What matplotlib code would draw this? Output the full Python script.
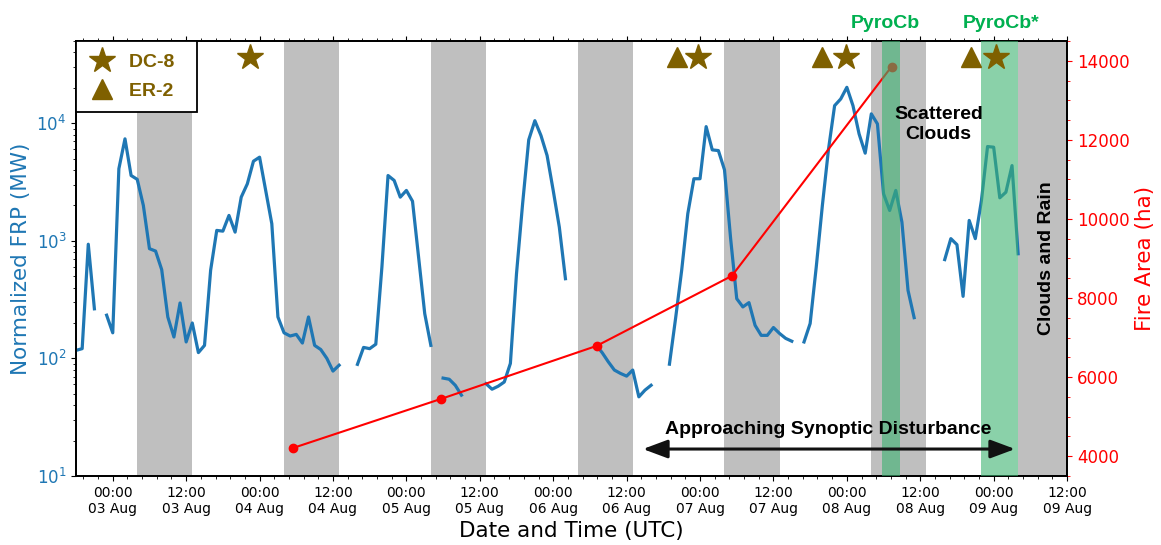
import numpy as np
import pandas as pd
import matplotlib
matplotlib.use('Agg')
import matplotlib.pyplot as plt
import matplotlib.dates as mdates
from matplotlib.ticker import AutoMinorLocator, MultipleLocator
from matplotlib.lines import Line2D

# hourly normalized FRP (MW), starting 02 Aug 18:00 UTC, NaN = no data
frp_start = '2019-08-02 18:00'
frp_mw = [
    117, 121, 935, 264, np.nan, 233, 165, 4100, 7360, 3590,
    3330, 2000, 857, 818, 569, 225, 152, 296, 138, 200,
    112, 129, 562, 1225, 1208, 1643, 1185, 2350, 3050, 4750,
    5140, 2680, 1397, 225, 165, 155, 160, 135, 225, 129,
    119, 100, 78, 87.5, np.nan, np.nan, 89, 124, 121, 132,
    600, 3590, 3260, 2350, 2680, 2170, 728, 240, 129, np.nan,
    68, 66.5, 59, 48.7, np.nan, np.nan, np.nan, 61, 54.7, 58,
    63, 90.6, 525, 2070, 7220, 10500, 7850, 5310, 2680, 1307,
    476, np.nan, np.nan, np.nan, np.nan, 130, 112, 93.6, 79.6, 74.5,
    70.7, 79.6, 47.1, 53.7, 59.1, np.nan, np.nan, 89.3, 218, 561,
    1700, 3370, 3370, 9350, 5930, 5850, 4010, 1047, 322, 274,
    298, 191, 157, 157, 183, 163, 148, 140, np.nan, 138,
    198, 600, 2000, 6000, 14100, 16070, 20180, 14100, 8110, 5560,
    12000, 9860, 2510, 1810, 2680, 1443, 379, 222, np.nan, np.nan,
    np.nan, np.nan, 692, 1043, 927, 337, 1490, 1043, 2200, 6330,
    6250, 2320, 2590, 4360, 776,
]

area_time = ['2019-08-04 05:30', '2019-08-05 05:40', '2019-08-06 07:06',
             '2019-08-07 05:12', '2019-08-08 07:18']
area_ha = [4210, 5450, 6790, 8560, 13850]

dc8_time = ['2019-08-03 22:30', '2019-08-06 23:45', '2019-08-07 23:50', '2019-08-09 00:24']
er2_time = ['2019-08-06 20:12', '2019-08-07 20:00', '2019-08-08 20:18']

night_start = ['2019-08-03 04:00', '2019-08-04 04:00', '2019-08-05 04:00', '2019-08-06 04:00',
               '2019-08-07 04:00', '2019-08-08 04:00', '2019-08-09 04:00']
night_end = ['2019-08-03 13:00', '2019-08-04 13:00', '2019-08-05 13:00', '2019-08-06 13:00',
             '2019-08-07 13:00', '2019-08-08 13:00', '2019-08-09 13:00']

pyrocb_start = ['2019-08-08 05:45', '2019-08-08 22:00']
pyrocb_end = ['2019-08-08 08:45', '2019-08-09 04:00']
pyrocb_label = ['PyroCb', 'PyroCb*']
pyrocb_label_x = ['2019-08-08 06:15', '2019-08-09 01:15']

gold = '#7f6000'
blue = '#1f77b4'
bold_font = dict(family='Liberation Sans', weight='bold', size=14)

def t(s):
    return mdates.date2num(pd.Timestamp(s))

frp_time = pd.date_range(frp_start, periods=len(frp_mw), freq='h')

fig = plt.figure(figsize=(11.61, 5.45), dpi=100)
ax = fig.add_axes([0.0655, 0.1266, 0.8536, 0.7982])
ax2 = ax.twinx()

for s, e in zip(night_start, night_end):
    ax.axvspan(t(s), t(e), color='#bfbfbf', lw=0, zorder=0)

ax.plot(frp_time, frp_mw, color=blue, lw=2.3, zorder=3)
ax.set_yscale('log')
ax.set_ylim(10, 5e4)
ax.set_xlim(t('2019-08-02 18:00'), t('2019-08-09 12:00'))

ax2.plot(pd.to_datetime(area_time), area_ha, color='red', lw=1.5, marker='o', ms=6, zorder=3)
ax2.set_ylim(3500, 14500)
ax2.yaxis.set_major_locator(MultipleLocator(2000))
ax2.yaxis.set_minor_locator(MultipleLocator(500))

xtr = ax2.get_xaxis_transform()
for s, e in zip(pyrocb_start, pyrocb_end):
    ax2.axvspan(t(s), t(e), color='#3cb371', alpha=0.6, lw=0, zorder=4)
for lab, x in zip(pyrocb_label, pyrocb_label_x):
    ax2.text(t(x), 1.04, lab, transform=xtr, ha='center', va='center',
             color='#00b050', **bold_font)

ax2.plot([t(s) for s in dc8_time], [0.964] * len(dc8_time), transform=xtr, ls='none',
         marker='*', ms=19, color=gold, zorder=6, clip_on=False)
ax2.plot([t(s) for s in er2_time], [0.964] * len(er2_time), transform=xtr, ls='none',
         marker='^', ms=14, color=gold, zorder=6, clip_on=False)

ax2.text(t('2019-08-08 15:00'), 0.808, 'Scattered\nClouds', transform=xtr, ha='center',
         va='center', linespacing=1.3, zorder=7, **bold_font)
ax2.text(t('2019-08-09 08:40'), 0.5, 'Clouds and Rain', transform=xtr, ha='center',
         va='center', rotation=90, zorder=7, **bold_font)
ax2.text(t('2019-08-07 21:00'), 0.108, 'Approaching Synoptic Disturbance', transform=xtr,
         ha='center', va='center', zorder=7, **bold_font)
ax2.annotate('', xy=(t('2019-08-09 03:30'), 0.062), xytext=(t('2019-08-06 14:40'), 0.062),
             xycoords=xtr, textcoords=xtr,
             arrowprops=dict(arrowstyle='<|-|>,head_length=0.75,head_width=0.28',
                             mutation_scale=20, lw=2.2, color='#111111', shrinkA=0, shrinkB=0),
             zorder=7)

handles = [Line2D([], [], ls='none', marker='*', ms=19, color=gold),
           Line2D([], [], ls='none', marker='^', ms=14, color=gold)]
leg = ax2.legend(handles, ['DC-8  ', 'ER-2  '], loc='upper left', borderaxespad=0,
                 fancybox=False, edgecolor='black', framealpha=1, prop=bold_font,
                 labelcolor=gold, handlelength=1.4, handletextpad=0.7, borderpad=0.62,
                 labelspacing=0.6)
leg.get_frame().set_linewidth(1.3)
leg.set_zorder(10)

ax.xaxis.set_major_locator(mdates.HourLocator(byhour=[0, 12]))
ax.xaxis.set_major_formatter(mdates.DateFormatter('%H:%M\n%d %b'))
ax.xaxis.set_minor_locator(AutoMinorLocator(5))
ax.tick_params(axis='x', which='both', top=True, labelsize=10)
ax.tick_params(axis='y', which='both', labelcolor=blue, labelsize=12)
ax2.tick_params(axis='y', which='both', colors='red', labelsize=12)

ax.set_xlabel('Date and Time (UTC)', fontsize=15.5)
ax.set_ylabel('Normalized FRP (MW)', color=blue, fontsize=15.5)
ax2.set_ylabel('Fire Area (ha)', color='red', fontsize=15.5)

for a in (ax, ax2):
    for sp in a.spines.values():
        sp.set_linewidth(1.3)
        sp.set_color('black')

fig.savefig('out.png', dpi=100)
